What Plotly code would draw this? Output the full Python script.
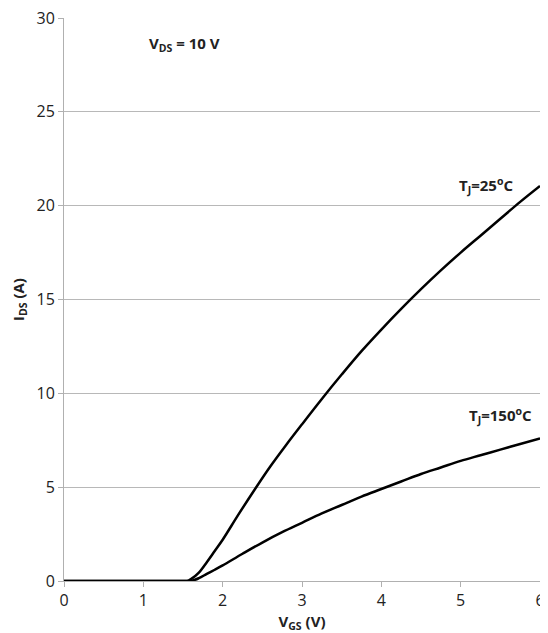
import plotly.graph_objects as go

vgs_25 = [0, 0.5, 1.0, 1.5, 1.55, 1.6, 1.7, 1.8, 1.9, 2.0, 2.2, 2.4, 2.6, 2.8, 3.0, 3.25, 3.5, 3.75, 4.0, 4.25, 4.5, 4.75, 5.0, 5.25, 5.5, 5.75, 6.0]
ids_25 = [0, 0, 0, 0, 0, 0.1, 0.45, 1.0, 1.6, 2.2, 3.55, 4.85, 6.1, 7.25, 8.35, 9.7, 11.0, 12.25, 13.4, 14.5, 15.55, 16.55, 17.5, 18.4, 19.3, 20.2, 21.05]

vgs_150 = [0, 0.5, 1.0, 1.5, 1.6, 1.7, 1.8, 1.9, 2.0, 2.25, 2.5, 2.75, 3.0, 3.25, 3.5, 3.75, 4.0, 4.25, 4.5, 4.75, 5.0, 5.25, 5.5, 5.75, 6.0]
ids_150 = [0, 0, 0, 0, 0, 0.15, 0.38, 0.6, 0.83, 1.45, 2.05, 2.6, 3.1, 3.6, 4.05, 4.5, 4.9, 5.3, 5.7, 6.05, 6.4, 6.7, 7.0, 7.3, 7.6]

x_ticks = [0, 1, 2, 3, 4, 5, 6]
y_ticks = [0, 5, 10, 15, 20, 25, 30]

fig = go.Figure()
for xs, ys in ((vgs_25, ids_25), (vgs_150, ids_150)):
    fig.add_trace(go.Scatter(x=xs, y=ys, mode="lines",
                             line=dict(color="black", width=2.5, shape="spline", smoothing=1.0),
                             showlegend=False, cliponaxis=False))

font_family = "Open Sans, Liberation Sans, sans-serif"

fig.update_layout(
    width=540, height=625,
    margin=dict(l=56, r=8, t=10, b=52, autoexpand=False),
    paper_bgcolor="white", plot_bgcolor="white",
    font=dict(family=font_family, size=16, color="#222"),
    xaxis=dict(range=[0, 6], tickvals=x_ticks, showgrid=False, showline=True, linecolor="#b0b0b0", linewidth=1,
               ticks="outside", ticklen=5, tickcolor="#b0b0b0", zeroline=False, automargin=False,
               ticklabeloverflow="allow",
               title=dict(text="<b>V<sub>GS</sub> (V)</b>", font=dict(size=15), standoff=4)),
    yaxis=dict(range=[0, 30], tickvals=y_ticks, showgrid=True, gridcolor="#b8b8b8", gridwidth=1,
               showline=True, linecolor="#b0b0b0", linewidth=1, ticks="outside", ticklen=5, tickcolor="#b0b0b0",
               zeroline=False, automargin=False, ticklabeloverflow="allow",
               title=dict(text="<b>I<sub>DS</sub> (A)</b>", font=dict(size=15), standoff=8)),
    annotations=[
        dict(x=1.05, y=28.6, text="<b>V<sub>DS</sub> = 10 V</b>", showarrow=False, xanchor="left", yanchor="middle", font=dict(size=15)),
        dict(x=5.68, y=21.1, text="<b>T<sub>J</sub>=25<sup>o</sup>C</b>", showarrow=False, xanchor="right", yanchor="middle", font=dict(size=15)),
        dict(x=5.92, y=8.8, text="<b>T<sub>J</sub>=150<sup>o</sup>C</b>", showarrow=False, xanchor="right", yanchor="middle", font=dict(size=15)),
    ],
)

fig.write_html("out.html")
